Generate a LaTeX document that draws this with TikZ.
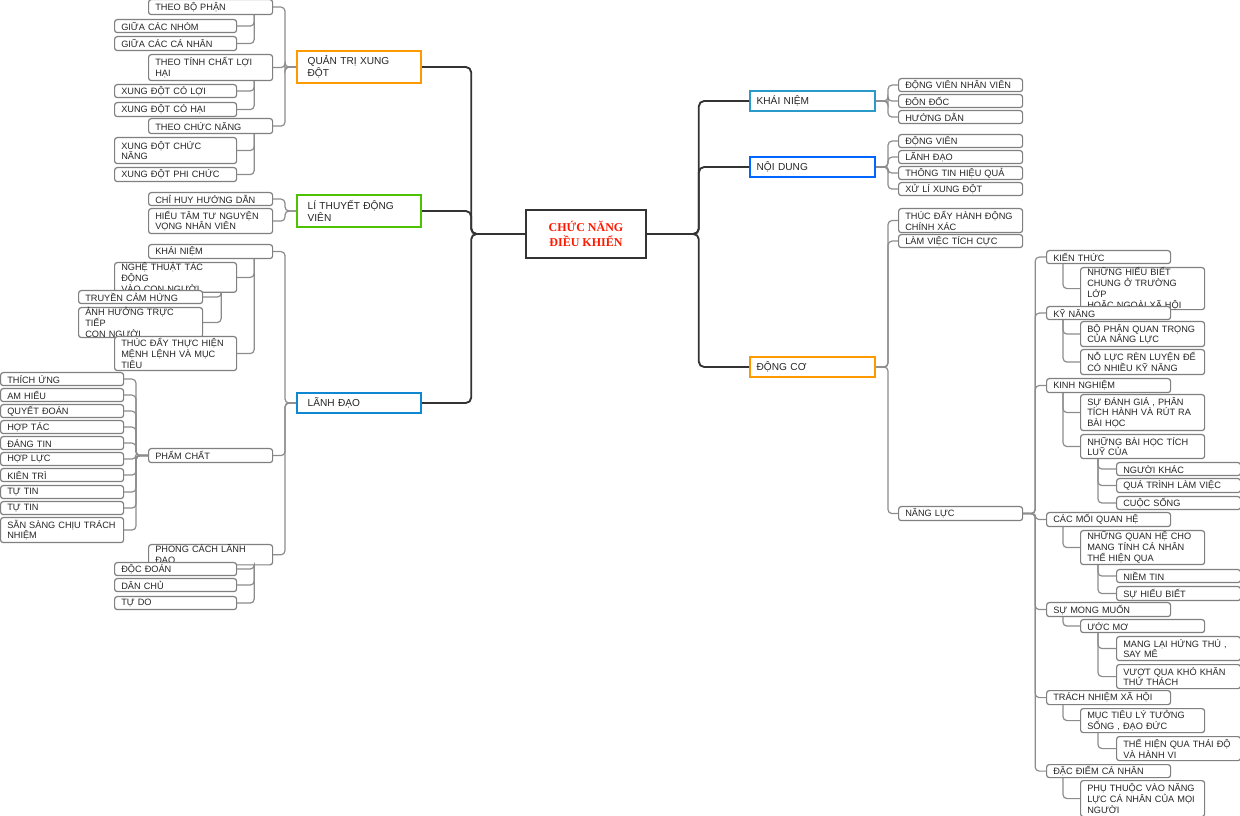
\documentclass[tikz,border=0pt]{standalone}
\usepackage{fontspec}
\setmainfont{Liberation Sans}
\newfontfamily\serifb{Liberation Serif}
\begin{document}
\begin{tikzpicture}[x=0.75pt,y=-0.75pt,
  leaf/.style={draw=black!50,line width=0.9pt,rounded corners=2pt,fill=white,align=left,inner ysep=0pt,inner xsep=5pt,font=\fontsize{6.9}{8.1}\selectfont,text=black!85},
  br/.style={line width=1.5pt,rounded corners=0pt,font=\fontsize{7.6}{9}\selectfont},
  conn/.style={draw=black!45,line width=0.9pt,rounded corners=3pt},
  main/.style={draw=black!80,line width=1.4pt,rounded corners=4pt}]
\useasboundingbox (0,0) rectangle (1240,816);
\newcommand\bx[7][]{\pgfmathsetmacro\mw{#5*0.75}\pgfmathsetmacro\mh{#6*0.75}\pgfmathsetmacro\tw{#5*0.75-10}%
 \node[leaf,#1,anchor=north west,minimum width=\mw pt,minimum height=\mh pt,text width=\tw pt] (#2) at (#3,#4) {#7};}
% center
\node[draw=black!80,line width=1.2pt,minimum width=90pt,minimum height=36pt,align=center,text=red!80!orange,font=\serifb\bfseries\fontsize{9}{11}\selectfont] (c) at (586,234) {CHỨC NĂNG\\ĐIỀU KHIỂN};
% branches
\bx[br,draw=orange!80!yellow]{qt}{296}{50}{124}{32}{\hspace*{3pt}QUẢN TRỊ XUNG\\\hspace*{3pt}ĐỘT}
\bx[br,draw=green!60!black!60!lime]{lt}{296}{194}{124}{32}{\hspace*{3pt}LÍ THUYẾT ĐỘNG\\\hspace*{3pt}VIÊN}
\bx[br,draw=cyan!70!blue]{ld}{296}{392}{124}{20}{\hspace*{3pt}LÃNH ĐẠO}
\bx[br,draw=cyan!80!black]{kn}{749}{90}{125}{20}{KHÁI NIỆM}
\bx[br,draw=blue!60!cyan]{nd}{749}{156}{125}{20}{NỘI DUNG}
\bx[br,draw=orange!80!yellow]{dc}{749}{356}{125}{20}{ĐỘNG CƠ}
\foreach \b in {qt,lt,ld}{\draw[main] (c.west) -- ++(-54,0) |- (\b.east);}
\foreach \b in {kn,nd,dc}{\draw[main] (c.east) -- ++(52,0) |- (\b.west);}
% QTXD
\bx{a1}{148}{-1}{124}{15}{THEO BỘ PHẬN}
\bx{a11}{114}{19}{122}{13}{GIỮA CÁC NHÓM}
\bx{a12}{114}{36}{122}{14}{GIỮA CÁC CÁ NHÂN}
\bx{a2}{148}{54}{124}{26}{THEO TÍNH CHẤT LỢI\\HẠI}
\bx{a21}{114}{84}{122}{13}{XUNG ĐỘT CÓ LỢI}
\bx{a22}{114}{102}{122}{14}{XUNG ĐỘT CÓ HẠI}
\bx{a3}{148}{118}{124}{15}{THEO CHỨC NĂNG}
\bx{a31}{114}{137}{122}{26}{XUNG ĐỘT CHỨC\\NĂNG}
\bx{a32}{114}{167}{122}{14}{XUNG ĐỘT PHI CHỨC}
\foreach \p/\l in {a1/{a11,a12},a2/{a21,a22},a3/{a31,a32}}{\foreach \q in \l{\draw[conn] ([xshift=-14.25pt]\p.south east) |- (\q.east);}}
\foreach \q in {a1,a2,a3}{\draw[conn] (\q.east) -| ([xshift=-8.25pt]qt.west) -- (qt.west);}
% LT
\bx{b1}{148}{192}{124}{13}{CHỈ HUY HƯỚNG DẪN}
\bx{b2}{148}{208}{124}{25}{HIỂU TÂM TƯ NGUYỆN\\VỌNG NHÂN VIÊN}
\foreach \q in {b1,b2}{\draw[conn] (\q.east) -| ([xshift=-8.25pt]lt.west) -- (lt.west);}
% LD
\bx{d1}{148}{244}{124}{14}{KHÁI NIỆM}
\bx{d11}{114}{262}{122}{24}{NGHỆ THUẬT TÁC ĐỘNG\\VÀO CON NGƯỜI}
\bx{d111}{78}{290}{124}{13}{TRUYỀN CẢM HỨNG}
\bx{d112}{78}{307}{124}{25}{ẢNH HƯỞNG TRỰC TIẾP\\CON NGƯỜI}
\bx{d12}{114}{336}{122}{34}{THÚC ĐẨY THỰC HIỆN\\MỆNH LỆNH VÀ MỤC\\TIÊU}
\bx{d2}{148}{448}{124}{14}{PHẨM CHẤT}
\bx{d3}{148}{544}{124}{14}{PHONG CÁCH LÃNH ĐẠO}
\bx{d31}{114}{562}{122}{13}{ĐỘC ĐOÁN}
\bx{d32}{114}{578}{122}{13}{DÂN CHỦ}
\bx{d33}{114}{596}{122}{13}{TỰ DO}
\foreach \q in {d11,d12}{\draw[conn] ([xshift=-14.25pt]d1.south east) |- (\q.east);}
\foreach \q in {d111,d112}{\draw[conn] ([xshift=-12pt]d11.south east) |- (\q.east);}
\foreach \q in {d31,d32,d33}{\draw[conn] ([xshift=-14.25pt]d3.south east) |- (\q.east);}
\foreach \q in {d1,d2,d3}{\draw[conn] (\q.east) -| ([xshift=-8.25pt]ld.west) -- (ld.west);}
\foreach \n/\y/\h/\t in {p1/372/13/THÍCH ỨNG,p2/388/13/AM HIỂU,p3/404/13/QUYẾT ĐOÁN,p4/420/13/HỢP TÁC,p5/436/13/ĐÁNG TIN,p6/452/13/HỢP LỰC,p7/468/13/KIÊN TRÌ,p8/485/13/TỰ TIN,p9/501/13/TỰ TIN,p10/517/25/{SẴN SÀNG CHỊU TRÁCH\\NHIỆM}}{
 \bx{\n}{0}{\y}{123}{\h}{\t}
 \draw[conn] (\n.east) -| ([xshift=-9pt]d2.west) -- (d2.west);}
% right KN, ND
\foreach \n/\y/\t in {k1/78/ĐỘNG VIÊN NHÂN VIÊN,k2/94/ĐÔN ĐỐC,k3/110/HƯỚNG DẪN}{
 \bx{\n}{898}{\y}{124}{13}{\t}\draw[conn] (kn.east) -- ++(12,0) |- (\n.west);}
\foreach \n/\y/\t in {n1/134/ĐỘNG VIÊN,n2/150/LÃNH ĐẠO,n3/166/THÔNG TIN HIỆU QUẢ,n4/182/XỬ LÍ XUNG ĐỘT}{
 \bx{\n}{898}{\y}{124}{13}{\t}\draw[conn] (nd.east) -- ++(12,0) |- (\n.west);}
% DC
\bx{e1}{898}{208}{124}{24}{THÚC ĐẨY HÀNH ĐỘNG\\CHÍNH XÁC}
\bx{e2}{898}{234}{124}{13}{LÀM VIỆC TÍCH CỰC}
\bx{e3}{898}{506}{124}{14}{NĂNG LỰC}
\foreach \q in {e1,e2,e3}{\draw[conn] (dc.east) -- ++(12,0) |- (\q.west);}
% NANG LUC
\bx{f1}{1046}{250}{124}{13}{KIẾN THỨC}
\bx{f11}{1080}{267}{124}{35}{NHỮNG HIỂU BIẾT\\CHUNG Ở TRƯỜNG LỚP\\HOẶC NGOÀI XÃ HỘI}
\bx{f2}{1046}{306}{124}{13}{KỸ NĂNG}
\bx{f21}{1080}{321}{124}{25}{BỘ PHẬN QUAN TRỌNG\\CỦA NĂNG LỰC}
\bx{f22}{1080}{349}{124}{25}{NỖ LỰC RÈN LUYỆN ĐỂ\\CÓ NHIỀU KỸ NĂNG}
\bx{f3}{1046}{378}{124}{14}{KINH NGHIỆM}
\bx{f31}{1080}{394}{124}{36}{SỰ ĐÁNH GIÁ , PHÂN\\TÍCH HÀNH VÀ RÚT RA\\BÀI HỌC}
\bx{f32}{1080}{434}{124}{24}{NHỮNG BÀI HỌC TÍCH\\LUỸ CỦA}
\bx{f321}{1116}{462}{124}{13}{NGƯỜI KHÁC}
\bx{f322}{1116}{478}{124}{14}{QUÁ TRÌNH LÀM VIỆC}
\bx{f323}{1116}{496}{124}{13}{CUỘC SỐNG}
\bx{f4}{1046}{512}{124}{14}{CÁC MỐI QUAN HỆ}
\bx{f41}{1080}{530}{124}{34}{NHỮNG QUAN HỆ CHO\\MANG TÍNH CÁ NHÂN\\THỂ HIỆN QUA}
\bx{f411}{1116}{569}{124}{13}{NIỀM TIN}
\bx{f412}{1116}{586}{124}{14}{SỰ HIỂU BIẾT}
\bx{f5}{1046}{602}{124}{14}{SỰ MONG MUỐN}
\bx{f51}{1080}{619}{124}{13}{ƯỚC MƠ}
\bx{f511}{1116}{636}{124}{24}{MANG LẠI HỨNG THÚ ,\\SAY MÊ}
\bx{f512}{1116}{664}{124}{24}{VƯỢT QUA KHÓ KHĂN\\THỬ THÁCH}
\bx{f6}{1046}{690}{124}{14}{TRÁCH NHIỆM XÃ HỘI}
\bx{f61}{1080}{708}{124}{24}{MỤC TIÊU LÝ TƯỞNG\\SỐNG , ĐẠO ĐỨC}
\bx{f611}{1116}{736}{124}{24}{THỂ HIỆN QUA THÁI ĐỘ\\VÀ HÀNH VI}
\bx{f7}{1046}{764}{124}{13}{ĐẶC ĐIỂM CÁ NHÂN}
\bx{f71}{1080}{780}{124}{36}{PHỤ THUỘC VÀO NĂNG\\LỰC CÁ NHÂN CỦA MỌI\\NGƯỜI}
\foreach \q in {f1,f2,f3,f4,f5,f6,f7}{\draw[conn] (e3.east) -- ++(12,0) |- (\q.west);}
\foreach \p/\l in {f1/{f11},f2/{f21,f22},f3/{f31,f32},f4/{f41},f5/{f51},f6/{f61},f7/{f71}}{\foreach \q in \l{\draw[conn] ([xshift=12.75pt]\p.south west) |- (\q.west);}}
\foreach \p/\l in {f32/{f321,f322,f323},f41/{f411,f412},f51/{f511,f512},f61/{f611}}{\foreach \q in \l{\draw[conn] ([xshift=13.5pt]\p.south west) |- (\q.west);}}
\end{tikzpicture}
\end{document}
